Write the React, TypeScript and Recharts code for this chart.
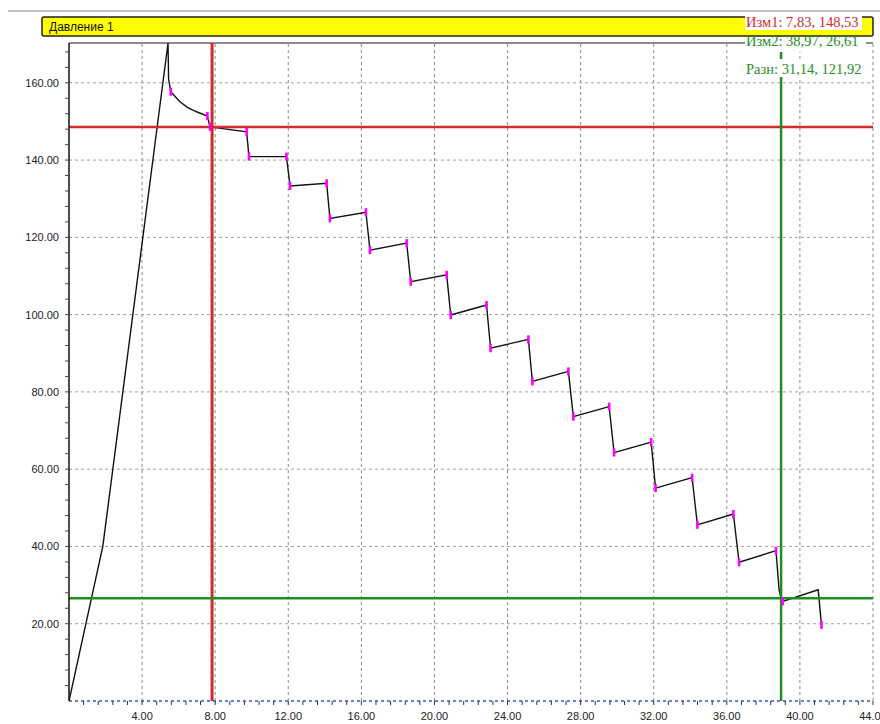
import React from "react";
import { LineChart, Line, XAxis, YAxis, ReferenceLine } from "recharts";

// pressure curve
const times = [
  0, 1.85, 5.42, 5.45, 5.57, 6.07, 6.5, 6.98, 7.57, 7.72, 9.72, 9.85, 11.9, 12.1, 14.1, 14.28,
  16.25, 16.47, 18.48, 18.7, 20.67, 20.89, 22.85, 23.07, 25.14, 25.36, 27.33, 27.6, 29.56, 29.83,
  31.86, 32.1, 34.1, 34.39, 36.36, 36.67, 38.69, 38.86, 38.97, 39.06, 41.0, 41.18,
];
const pressure = [
  0, 40, 170.3, 161.0, 157.7, 155.1, 153.6, 152.5, 151.4, 148.6, 147.3, 140.9, 140.9, 133.3, 134.0,
  124.9, 126.5, 116.7, 118.5, 108.5, 110.3, 99.9, 102.5, 91.3, 93.6, 82.7, 85.3, 73.6, 76.2, 64.3,
  67.0, 55.1, 57.8, 45.6, 48.4, 35.9, 38.9, 28.8, 26.6, 25.8, 28.8, 19.7,
];
// 1 = magenta step marker
const marks = [
  0, 0, 0, 0, 1, 0, 0, 0, 1, 1, 1, 1, 1, 1, 1, 1, 1, 1, 1, 1, 1, 1, 1, 1, 1, 1, 1, 1, 1, 1, 1, 1,
  1, 1, 1, 1, 1, 0, 0, 1, 0, 1,
];

const xMajor = [4, 8, 12, 16, 20, 24, 28, 32, 36, 40, 44];
const yMajor = [20, 40, 60, 80, 100, 120, 140, 160];
const xTicks = Array.from({ length: 55 }, (_, i) => Math.round((i + 1) * 8) / 10);
const yTicks = Array.from({ length: 42 }, (_, i) => (i + 1) * 4);
const X_MAX = 44;
const Y_MAX = 170.3;

const cursor1 = { x: 7.83, y: 148.53 };
const cursor2 = { x: 38.97, y: 26.61 };
const title = "Давление 1";
const label1 = "Изм1: 7,83, 148,53";
const label2 = "Изм2: 38,97, 26,61";
const label3 = "Разн: 31,14, 121,92";

const data = times.map((t, i) => ({ t, p: pressure[i], m: marks[i] }));

const isMajor = (v: number, step: number) => Math.abs(v / step - Math.round(v / step)) < 1e-6;

const XTick = (props: any) => {
  const { x, y, payload } = props;
  if (!isMajor(payload.value, 4)) return <g />;
  return (
    <text x={x} y={y} dy="0.71em" textAnchor="middle" fontSize={11} fill="#222">
      {payload.value.toFixed(2)}
    </text>
  );
};

const YTick = (props: any) => {
  const { x, y, payload } = props;
  if (!isMajor(payload.value, 20)) return <g />;
  return (
    <text x={x} y={y} dy="0.355em" textAnchor="end" fontSize={11} fill="#222">
      {payload.value.toFixed(2)}
    </text>
  );
};

const StepDot = (props: any) => {
  const { cx, cy, payload, index } = props;
  if (!payload.m) return <g key={index} />;
  return <rect key={index} x={cx - 1.3} y={cy - 4} width={2.6} height={8} fill="#ff00ff" />;
};

export default function App() {
  const font = "'Liberation Sans', Arial, sans-serif";
  const serif = "'Liberation Serif', 'Times New Roman', serif";
  return (
    <div style={{ position: "absolute", left: 0, top: 0, width: 880, height: 724, background: "#fff", overflow: "hidden", fontFamily: font }}>
      <LineChart width={880} height={724} data={data} margin={{ top: 43, right: 7, bottom: 1, left: 0 }}>
        <XAxis
          dataKey="t"
          type="number"
          domain={[0, X_MAX]}
          ticks={xTicks}
          tick={XTick}
          interval={0}
          height={22}
          tickSize={4}
          tickMargin={7}
          stroke="#3355dd"
          axisLine={{ stroke: "#3355dd", strokeDasharray: "3 3", strokeWidth: 1.5 }}
          tickLine={{ stroke: "#333" }}
          allowDataOverflow
        />
        <YAxis
          type="number"
          domain={[0, Y_MAX]}
          ticks={yTicks}
          tick={YTick}
          interval={0}
          width={69}
          tickSize={4}
          tickMargin={6}
          axisLine={{ stroke: "#111", strokeWidth: 1.5 }}
          tickLine={{ stroke: "#444" }}
          allowDataOverflow
        />
        {xMajor.map((v) => (
          <ReferenceLine key={"gx" + v} x={v} stroke="#8a8a8a" strokeDasharray="3 3" />
        ))}
        {yMajor.map((v) => (
          <ReferenceLine key={"gy" + v} y={v} stroke="#a0a0a0" strokeDasharray="3 3" />
        ))}
        <ReferenceLine y={Y_MAX} stroke="#666" strokeWidth={1.5} />
        <Line
          dataKey="p"
          type="linear"
          stroke="#111"
          strokeWidth={1.4}
          dot={StepDot}
          activeDot={false}
          isAnimationActive={false}
        />
        <ReferenceLine x={cursor1.x} stroke="#d42a2a" strokeWidth={3} />
        <ReferenceLine y={cursor1.y} stroke="#d42a2a" strokeWidth={2.5} />
        <ReferenceLine x={cursor2.x} stroke="#1f8f1f" strokeWidth={2.5} />
        <ReferenceLine y={cursor2.y} stroke="#1f8f1f" strokeWidth={2.5} />
      </LineChart>
      <svg width={880} height={724} style={{ position: "absolute", left: 0, top: 0, pointerEvents: "none" }}>
        <line x1={8} y1={11} x2={880} y2={11} stroke="#c4c4c4" strokeWidth={2} />
        <rect x={42} y={17} width={831} height={19} rx={2} fill="#ffff00" stroke="#222" strokeWidth={1.5} />
        <text x={49} y={31} fontSize={12} fontFamily={font} fill="#111">
          {title}
        </text>
        <rect x={745} y={15} width={117} height={15} fill="#fff" />
        <text x={746} y={27} fontSize={14.5} fontFamily={serif} fill="#d42a2a">
          {label1}
        </text>
        <rect x={745} y={37} width={121} height={15} fill="#fff" />
        <text x={746} y={46} fontSize={14.5} fontFamily={serif} fill="#1f8f1f">
          {label2}
        </text>
        <rect x={745} y={59} width={119} height={18} fill="#fff" />
        <text x={746} y={74} fontSize={14.5} fontFamily={serif} fill="#1f8f1f">
          {label3}
        </text>
      </svg>
    </div>
  );
}
